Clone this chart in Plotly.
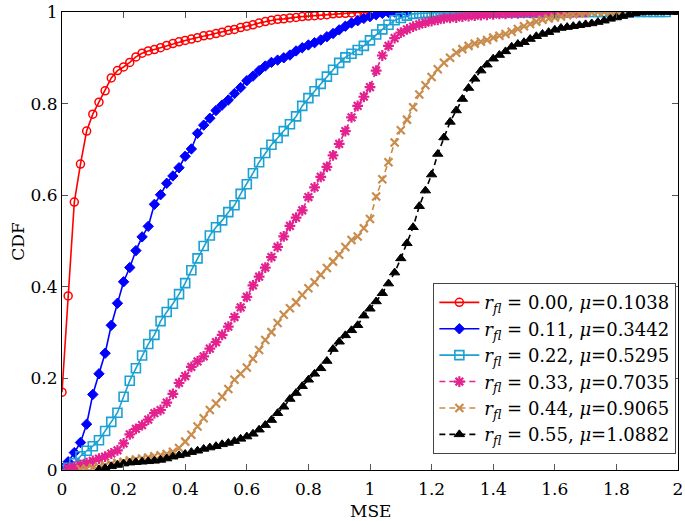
import plotly.graph_objects as go

# shared MSE grid (step 0.02 from 0 to 2.0)
mse_grid = [0.00, 0.02, 0.04, 0.06, 0.08, 0.10, 0.12, 0.14, 0.16, 0.18,
            0.20, 0.22, 0.24, 0.26, 0.28, 0.30, 0.32, 0.34, 0.36, 0.38,
            0.40, 0.42, 0.44, 0.46, 0.48, 0.50, 0.52, 0.54, 0.56, 0.58,
            0.60, 0.62, 0.64, 0.66, 0.68, 0.70, 0.72, 0.74, 0.76, 0.78,
            0.80, 0.82, 0.84, 0.86, 0.88, 0.90, 0.92, 0.94, 0.96, 0.98,
            1.00, 1.02, 1.04, 1.06, 1.08, 1.10, 1.12, 1.14, 1.16, 1.18,
            1.20, 1.22, 1.24, 1.26, 1.28, 1.30, 1.32, 1.34, 1.36, 1.38,
            1.40, 1.42, 1.44, 1.46, 1.48, 1.50, 1.52, 1.54, 1.56, 1.58,
            1.60, 1.62, 1.64, 1.66, 1.68, 1.70, 1.72, 1.74, 1.76, 1.78,
            1.80, 1.82, 1.84, 1.86, 1.88, 1.90, 1.92, 1.94, 1.96, 1.98,
            2.00]

cdf_r000 = [0.17, 0.38, 0.585, 0.668, 0.74, 0.777, 0.803, 0.828, 0.856, 0.872,
            0.88, 0.89, 0.902, 0.91, 0.915, 0.918, 0.922, 0.927, 0.931, 0.935,
            0.938, 0.941, 0.944, 0.948, 0.95, 0.953, 0.956, 0.96, 0.962, 0.966,
            0.969, 0.972, 0.976, 0.979, 0.982, 0.984, 0.985, 0.987, 0.988, 0.99,
            0.991, 0.992, 0.993, 0.994, 0.996, 0.997, 0.997, 0.998, 0.999, 0.999,
            1.0]

cdf_r011 = [0.004, 0.018, 0.038, 0.06, 0.10, 0.165, 0.21, 0.255, 0.316, 0.364,
            0.411, 0.442, 0.479, 0.509, 0.532, 0.58, 0.601, 0.626, 0.642, 0.66,
            0.685, 0.701, 0.735, 0.753, 0.768, 0.785, 0.797, 0.808, 0.822, 0.835,
            0.85, 0.86, 0.872, 0.882, 0.89, 0.895, 0.9, 0.906, 0.915, 0.922,
            0.928, 0.933, 0.939, 0.946, 0.953, 0.961, 0.969, 0.976, 0.981, 0.986,
            0.99, 0.994, 0.997, 0.999, 1.0, 1.0, 1.0]

cdf_r022 = [0.0, 0.005, 0.015, 0.03, 0.042, 0.052, 0.065, 0.085, 0.105, 0.125,
            0.16, 0.195, 0.222, 0.25, 0.275, 0.295, 0.325, 0.345, 0.363, 0.384,
            0.408, 0.436, 0.462, 0.489, 0.512, 0.53, 0.545, 0.563, 0.578, 0.603,
            0.624, 0.648, 0.672, 0.692, 0.71, 0.725, 0.74, 0.755, 0.772, 0.795,
            0.812, 0.827, 0.843, 0.859, 0.874, 0.889, 0.901, 0.909, 0.917, 0.926,
            0.938, 0.951, 0.962, 0.972, 0.982, 0.987, 0.992, 0.996, 0.997, 0.998,
            0.998, 0.998, 0.998, 0.998, 0.998, 0.998, 0.998, 0.998, 0.999, 0.999,
            0.999, 0.999, 0.999, 0.999, 0.999, 0.999, 0.999, 0.999, 0.999, 0.999,
            0.999, 0.999, 0.999, 1.0, 1.0, 1.0, 1.0, 1.0, 1.0, 1.0,
            1.0, 1.0, 1.0, 1.0, 1.0, 1.0, 1.0, 1.0, 1.0]

cdf_r033 = [None, 0.004, 0.007, 0.011, 0.015, 0.02, 0.025, 0.029, 0.036, 0.043,
            0.058, 0.078, 0.09, 0.098, 0.11, 0.124, 0.131, 0.147, 0.166, 0.19,
            0.205, 0.225, 0.237, 0.248, 0.265, 0.279, 0.295, 0.313, 0.334, 0.355,
            0.378, 0.403, 0.422, 0.442, 0.465, 0.487, 0.51, 0.533, 0.551, 0.567,
            0.596, 0.617, 0.64, 0.662, 0.687, 0.712, 0.74, 0.77, 0.795, 0.815,
            0.836, 0.872, 0.905, 0.926, 0.943, 0.955, 0.962, 0.968, 0.973, 0.977,
            0.98, 0.983, 0.986, 0.987, 0.988, 0.99, 0.991, 0.992, 0.993, 0.994,
            0.995, 0.996, 0.996, 0.997, 0.997, 0.998, 0.998, 0.998, 0.999, 0.999,
            0.999, 0.999, 1.0, 1.0, 1.0, 1.0]

cdf_r044 = [None, None, None, 0.002, 0.003, 0.005, 0.007, 0.01, 0.013, 0.016,
            0.018, 0.021, 0.023, 0.025, 0.027, 0.03, 0.032, 0.035, 0.04, 0.048,
            0.062, 0.077, 0.095, 0.113, 0.131, 0.145, 0.16, 0.177, 0.197, 0.21,
            0.224, 0.243, 0.262, 0.284, 0.301, 0.321, 0.339, 0.353, 0.366, 0.382,
            0.397, 0.41, 0.426, 0.441, 0.455, 0.47, 0.487, 0.502, 0.51, 0.528,
            0.548, 0.597, 0.635, 0.672, 0.715, 0.742, 0.765, 0.792, 0.82, 0.84,
            0.858, 0.875, 0.889, 0.9, 0.911, 0.919, 0.926, 0.931, 0.935, 0.939,
            0.944, 0.948, 0.952, 0.957, 0.963, 0.969, 0.974, 0.979, 0.983, 0.986,
            0.988, 0.99, 0.993, 0.995, 0.997, 0.999, 0.999, 1.0, 1.0, 1.0,
            1.0, 1.0, 1.0]

cdf_r055 = [None, None, None, None, None, None, 0.001, 0.004, 0.008, 0.011,
            0.014, 0.016, 0.017, 0.018, 0.019, 0.02, 0.022, 0.025, 0.029, 0.032,
            0.035, 0.039, 0.042, 0.046, 0.049, 0.052, 0.056, 0.059, 0.063, 0.068,
            0.073, 0.079, 0.088, 0.098, 0.109, 0.124, 0.138, 0.155, 0.168, 0.183,
            0.197, 0.21, 0.222, 0.238, 0.264, 0.28, 0.294, 0.305, 0.316, 0.337,
            0.352, 0.368, 0.386, 0.407, 0.431, 0.462, 0.495, 0.53, 0.576, 0.61,
            0.645, 0.69, 0.726, 0.76, 0.785, 0.81, 0.834, 0.854, 0.872, 0.885,
            0.898, 0.906, 0.914, 0.924, 0.93, 0.934, 0.941, 0.947, 0.952, 0.956,
            0.961, 0.965, 0.967, 0.969, 0.971, 0.973, 0.975, 0.978, 0.981, 0.985,
            0.988, 0.991, 0.994, 0.997, 0.999, 1.0, 1.0, 1.0, 1.0, 1.0,
            1.0]

legend_labels = [
    "<i>r</i><sub><i>fl</i></sub> = 0.00, <i>μ</i>=0.1038",
    "<i>r</i><sub><i>fl</i></sub> = 0.11, <i>μ</i>=0.3442",
    "<i>r</i><sub><i>fl</i></sub> = 0.22, <i>μ</i>=0.5295",
    "<i>r</i><sub><i>fl</i></sub> = 0.33, <i>μ</i>=0.7035",
    "<i>r</i><sub><i>fl</i></sub> = 0.44, <i>μ</i>=0.9065",
    "<i>r</i><sub><i>fl</i></sub> = 0.55, <i>μ</i>=1.0882",
]
x_ticks = [0, 0.2, 0.4, 0.6, 0.8, 1, 1.2, 1.4, 1.6, 1.8, 2]
x_tick_labels = ["0", "0.2", "0.4", "0.6", "0.8", "1", "1.2", "1.4", "1.6", "1.8", "2"]
y_ticks = [0, 0.2, 0.4, 0.6, 0.8, 1]
y_tick_labels = ["0", "0.2", "0.4", "0.6", "0.8", "1"]
x_title = "MSE"
y_title = "CDF"

series = [cdf_r000, cdf_r011, cdf_r022, cdf_r033, cdf_r044, cdf_r055]
styles = [
    dict(color="#FF0000", symbol="circle-open", size=8, dash="solid", mlw=1.5),
    dict(color="#0000FF", symbol="diamond", size=8, dash="solid", mlw=1.0),
    dict(color="#1BA1D3", symbol="square-open", size=9, dash="solid", mlw=1.6),
    dict(color="#E3218F", symbol="asterisk-open", size=9, dash="6px,4px", mlw=2.2),
    dict(color="#C98C4C", symbol="x-thin-open", size=8, dash="6px,4px", mlw=2.2),
    dict(color="#000000", symbol="triangle-up", size=9, dash="6px,4px", mlw=1.0),
]

fig = go.Figure()
for ys, st, name in zip(series, styles, legend_labels):
    fig.add_trace(go.Scatter(
        x=mse_grid[:len(ys)], y=ys, mode="lines+markers", name=name,
        line=dict(color=st["color"], width=1.6, dash=st["dash"]),
        marker=dict(symbol=st["symbol"], size=st["size"], color=st["color"],
                    line=dict(color=st["color"], width=st["mlw"])),
    ))

font_family = "DejaVu Serif, Liberation Serif, serif"
fig.update_layout(
    width=685, height=521,
    margin=dict(l=62, r=7, t=12, b=51),
    paper_bgcolor="white", plot_bgcolor="white",
    font=dict(family=font_family, size=17, color="black"),
    xaxis=dict(
        range=[0, 2], tickvals=x_ticks, ticktext=x_tick_labels,
        ticks="inside", ticklen=6, tickcolor="#555", tickwidth=1,
        showline=True, linecolor="black", linewidth=1.2, mirror="ticks",
        showgrid=False, zeroline=False, automargin=False,
        ticklabeloverflow="allow", ticklabelstandoff=3,
    ),
    yaxis=dict(
        range=[0, 1], tickvals=y_ticks, ticktext=y_tick_labels,
        ticks="inside", ticklen=6, tickcolor="#555", tickwidth=1,
        showline=True, linecolor="black", linewidth=1.2, mirror="ticks",
        showgrid=False, zeroline=False, automargin=False,
        ticklabeloverflow="allow",
    ),
    legend=dict(
        x=0.997, y=0.035, xanchor="right", yanchor="bottom",
        bgcolor="white", bordercolor="#444", borderwidth=1.2,
        font=dict(family=font_family, size=18, color="black"),
        itemwidth=40, tracegroupgap=0,
    ),
    annotations=[
        dict(text=x_title, xref="paper", yref="paper", x=0.5, y=-0.09,
             xanchor="center", yanchor="middle", showarrow=False,
             font=dict(family=font_family, size=17)),
        dict(text=y_title, xref="paper", yref="paper", x=-0.072, y=0.5,
             xanchor="center", yanchor="middle", showarrow=False, textangle=-90,
             font=dict(family=font_family, size=17)),
    ],
)

fig.write_html("out.html",
               config={"displayModeBar": False},
               post_script="document.body.style.margin='0';document.body.style.overflow='hidden';")
